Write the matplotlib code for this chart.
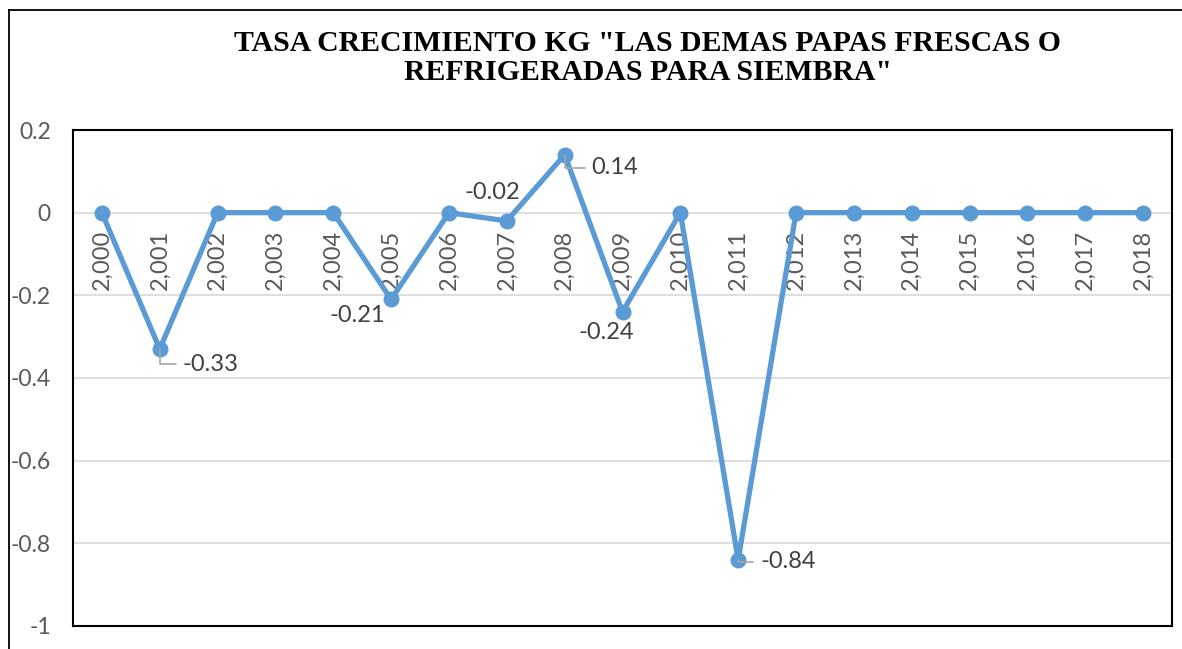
import numpy as np
import matplotlib.pyplot as plt
from matplotlib.lines import Line2D

# Data
years = list(range(2000, 2019))
tasa = [0, -0.33, 0, 0, 0, -0.21, 0, -0.02, 0.14, -0.24, 0,
        -0.84, 0, 0, 0, 0, 0, 0, 0]
# labelled points: index -> (dx px, dy px, leader?)
label_pos = {1: (23, -15, True), 5: (-34, -16, False), 7: (-15, 28, False),
             8: (27, -13, True), 9: (-16, -21, False), 11: (22, -2, True)}

title = 'TASA CRECIMIENTO KG "LAS DEMAS PAPAS FRESCAS O\nREFRIGERADAS PARA SIEMBRA"'

W, H = 1182, 649
fig = plt.figure(figsize=(W / 100, H / 100), dpi=100)
ax = fig.add_axes([73 / W, (H - 626) / H, 1099 / W, 496 / H])

x = np.arange(len(years))
ax.plot(x, tasa, color='#5b9bd5', linewidth=3.8, marker='o',
        markersize=10.5, zorder=3, clip_on=False)

ax.set_xlim(-0.5, len(years) - 0.5)
ax.set_ylim(-1, 0.2)
ax.set_yticks(np.arange(-1, 0.21, 0.2))
ax.set_yticklabels(['-1', '-0.8', '-0.6', '-0.4', '-0.2', '0', '0.2'])
ax.set_xticks([])
ax.tick_params(axis='y', length=0, pad=16, labelsize=16.5, labelcolor='#595959')
for t in ax.get_yticklabels():
    t.set_family('Lato')
ax.grid(axis='y', color='#d9d9d9', linewidth=1.2, zorder=0)
for s in ax.spines.values():
    s.set_color('black')
    s.set_linewidth(1.5)

# category labels sit just under the zero line
for i, yr in enumerate(years):
    ax.annotate(f'{yr:,}', (i, 0), xytext=(0, -17), textcoords='offset pixels',
                rotation=90, ha='center', va='top', fontsize=17,
                color='#595959', family='Lato', zorder=2)

# data labels
for i, (dx, dy, leader) in label_pos.items():
    v = tasa[i]
    txt = f'{v:.2f}'
    if leader:
        ax.annotate(txt, (i, v), xytext=(dx, dy), textcoords='offset pixels',
                    ha='left', va='center', fontsize=17, color='#404040',
                    family='Lato', zorder=4,
                    arrowprops=dict(arrowstyle='-', color='#a6a6a6', lw=1.2,
                                    shrinkA=3, shrinkB=0, relpos=(0, 0.5),
                                    connectionstyle='angle,angleA=0,angleB=90'))
    else:
        ax.annotate(txt, (i, v), xytext=(dx, dy), textcoords='offset pixels',
                    ha='center', va='center', fontsize=17, color='#404040',
                    family='Lato', zorder=4)

fig.text(648 / W, 1 - 58 / H, title, ha='center', va='center',
         fontsize=21.4, fontweight='bold', family='Liberation Serif',
         linespacing=1.05, color='black')

# outer chart frame (left and top edges visible)
fig.add_artist(Line2D([9 / W, 9 / W], [0, 1 - 10 / H], color='black', lw=1.3))
fig.add_artist(Line2D([9 / W, 1], [1 - 10 / H, 1 - 10 / H], color='black', lw=1.3))

fig.savefig('out.png', dpi=100)
